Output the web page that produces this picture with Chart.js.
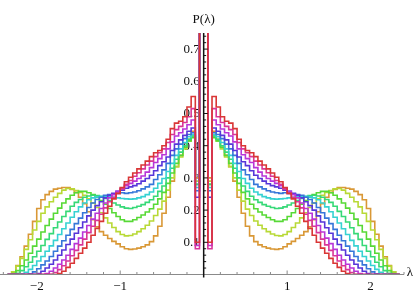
<!DOCTYPE html>
<html>
<head>
<meta charset="utf-8">
<script src="https://cdn.jsdelivr.net/npm/chart.js@4.4.0/dist/chart.umd.min.js"></script>
<style>
html,body{margin:0;padding:0;background:#fff;}
#wrap{width:415px;height:293px;position:relative;}
</style>
</head>
<body>
<div id="wrap"><canvas id="c" width="415" height="293"></canvas></div>
<script>
// Histogram bins of width 0.05 on lambda >= 0 (bin k covers [0.05k, 0.05(k+1)) );
// the distribution is read as symmetric, the negative side uses the same bin values.
const binWidth = 0.05;

const xTicks = [-2, -1, 1, 2];
const yTicks = [0.1, 0.2, 0.3, 0.4, 0.5, 0.6, 0.7];

const seriesNames = ['orange','yellowGreen','green','springGreen','cyan','azure','blue','purple','pink','red'];

const orange = [1.5, 0.30, 0.445, 0.42, 0.40, 0.37, 0.335, 0.29, 0.24, 0.19, 0.15, 0.12, 0.102, 0.092, 0.086, 0.082, 0.079, 0.078, 0.08, 0.086, 0.095, 0.103, 0.112, 0.122, 0.133, 0.148, 0.17, 0.195, 0.22, 0.24, 0.255, 0.264, 0.27, 0.27, 0.268, 0.265, 0.258, 0.248, 0.232, 0.205, 0.165, 0.125, 0.088, 0.055, 0.028, 0.008, 0];
const yellowGreen = [1.5, 0.29, 0.43, 0.415, 0.39, 0.365, 0.335, 0.30, 0.262, 0.228, 0.203, 0.183, 0.166, 0.153, 0.142, 0.133, 0.126, 0.121, 0.12, 0.124, 0.133, 0.146, 0.16, 0.176, 0.192, 0.208, 0.222, 0.235, 0.246, 0.255, 0.261, 0.266, 0.267, 0.262, 0.252, 0.24, 0.226, 0.21, 0.19, 0.165, 0.138, 0.108, 0.078, 0.05, 0.026, 0.008, 0];
const green = [1.5, 0.28, 0.425, 0.415, 0.395, 0.37, 0.345, 0.315, 0.283, 0.255, 0.235, 0.218, 0.204, 0.194, 0.185, 0.177, 0.17, 0.165, 0.165, 0.17, 0.18, 0.192, 0.205, 0.218, 0.23, 0.24, 0.248, 0.254, 0.258, 0.258, 0.254, 0.246, 0.235, 0.222, 0.206, 0.19, 0.172, 0.152, 0.132, 0.11, 0.088, 0.066, 0.045, 0.027, 0.012, 0.003, 0];
const springGreen = [1.5, 0.28, 0.43, 0.42, 0.40, 0.38, 0.358, 0.33, 0.30, 0.275, 0.258, 0.243, 0.232, 0.224, 0.217, 0.212, 0.208, 0.205, 0.206, 0.21, 0.216, 0.222, 0.23, 0.236, 0.242, 0.245, 0.246, 0.244, 0.24, 0.233, 0.224, 0.212, 0.196, 0.18, 0.163, 0.145, 0.127, 0.109, 0.09, 0.072, 0.055, 0.038, 0.024, 0.012, 0.004, 0, 0];
const cyan = [1.5, 0.27, 0.435, 0.428, 0.41, 0.39, 0.37, 0.345, 0.32, 0.298, 0.283, 0.268, 0.256, 0.248, 0.242, 0.238, 0.235, 0.234, 0.235, 0.236, 0.238, 0.24, 0.242, 0.243, 0.243, 0.241, 0.238, 0.232, 0.222, 0.21, 0.195, 0.178, 0.16, 0.142, 0.124, 0.106, 0.089, 0.072, 0.056, 0.042, 0.028, 0.016, 0.007, 0.002, 0, 0, 0];
const azure = [1.5, 0.26, 0.44, 0.435, 0.422, 0.405, 0.39, 0.37, 0.345, 0.325, 0.31, 0.295, 0.28, 0.272, 0.266, 0.26, 0.256, 0.254, 0.252, 0.254, 0.252, 0.25, 0.248, 0.246, 0.24, 0.233, 0.222, 0.208, 0.192, 0.175, 0.158, 0.14, 0.122, 0.105, 0.088, 0.072, 0.056, 0.042, 0.03, 0.018, 0.008, 0.002, 0, 0, 0, 0, 0];
const blue = [1.5, 0.24, 0.455, 0.445, 0.432, 0.418, 0.405, 0.385, 0.365, 0.35, 0.338, 0.322, 0.308, 0.298, 0.29, 0.282, 0.276, 0.272, 0.268, 0.262, 0.258, 0.252, 0.246, 0.238, 0.226, 0.214, 0.20, 0.182, 0.163, 0.145, 0.128, 0.11, 0.093, 0.076, 0.06, 0.045, 0.032, 0.02, 0.01, 0.003, 0, 0, 0, 0, 0, 0, 0];
const purple = [1.5, 0.09, 0.48, 0.465, 0.452, 0.44, 0.43, 0.412, 0.39, 0.372, 0.36, 0.348, 0.332, 0.318, 0.306, 0.298, 0.29, 0.283, 0.276, 0.268, 0.258, 0.248, 0.238, 0.222, 0.205, 0.19, 0.172, 0.152, 0.132, 0.113, 0.096, 0.078, 0.06, 0.045, 0.032, 0.02, 0.01, 0.003, 0, 0, 0, 0, 0, 0, 0, 0, 0];
const pink = [1.5, 0.08, 0.515, 0.49, 0.472, 0.46, 0.45, 0.435, 0.41, 0.39, 0.378, 0.366, 0.352, 0.34, 0.328, 0.316, 0.305, 0.292, 0.28, 0.266, 0.252, 0.24, 0.226, 0.207, 0.187, 0.168, 0.15, 0.13, 0.11, 0.092, 0.075, 0.058, 0.042, 0.027, 0.015, 0.006, 0.001, 0, 0, 0, 0, 0, 0, 0, 0, 0, 0];
const red = [1.5, 0.10, 0.553, 0.52, 0.49, 0.476, 0.47, 0.453, 0.42, 0.40, 0.385, 0.378, 0.366, 0.352, 0.34, 0.328, 0.315, 0.302, 0.288, 0.27, 0.252, 0.235, 0.212, 0.19, 0.165, 0.143, 0.122, 0.10, 0.082, 0.066, 0.05, 0.035, 0.022, 0.01, 0.003, 0, 0, 0, 0, 0, 0, 0, 0, 0, 0, 0, 0];

const seriesValues = [orange, yellowGreen, green, springGreen, cyan, azure, blue, purple, pink, red];
const seriesColors = ['rgb(217,152,54)','rgb(184,217,54)','rgb(87,217,54)','rgb(54,217,119)','rgb(54,210,210)',
                      'rgb(54,119,217)','rgb(87,54,217)','rgb(184,54,217)','rgb(217,54,152)','rgb(217,54,54)'];

function histPoints(R) {
  const n = R.length, pts = [];
  for (let i = n - 1; i >= 0; i--) pts.push({x: -(i + 1) * binWidth, y: R[i]});
  for (let i = 0; i < n; i++) pts.push({x: i * binWidth, y: R[i]});
  pts.push({x: n * binWidth, y: 0});
  return pts;
}

// red is drawn on top (dataset index 0 is painted last)
const datasets = [];
for (let s = seriesValues.length - 1; s >= 0; s--) {
  datasets.push({
    label: seriesNames[s],
    data: histPoints(seriesValues[s]),
    borderColor: seriesColors[s],
    borderWidth: 1.6,
    pointRadius: 0,
    fill: false,
    stepped: true,
    tension: 0
  });
}

const serif = "'Liberation Serif','Times New Roman',serif";

const deco = {
  id: 'deco',
  beforeDatasetsDraw(chart) {
    // y tick labels, left of the vertical axis (lines pass over them as in the original)
    const {ctx, scales: {x, y}} = chart;
    const x0 = x.getPixelForValue(0);
    ctx.save();
    ctx.fillStyle = '#111';
    ctx.font = '13px ' + serif;
    ctx.textAlign = 'right';
    ctx.textBaseline = 'middle';
    for (const t of y.ticks) {
      ctx.fillText(t.value.toFixed(1), x0 - 4, y.getPixelForValue(t.value) + 0.5);
    }
    ctx.restore();
  },
  afterDatasetsDraw(chart) {
    const {ctx, scales: {x, y}, chartArea} = chart;
    const x0 = x.getPixelForValue(0), y0 = y.getPixelForValue(0);
    ctx.save();
    // x axis
    ctx.strokeStyle = '#8a8a8a';
    ctx.lineWidth = 1;
    ctx.beginPath();
    ctx.moveTo(chartArea.left, y0); ctx.lineTo(chartArea.right, y0);
    ctx.stroke();
    for (let v = -24; v <= 24; v += 2) {
      if (v === 0) continue;
      const px = x.getPixelForValue(v / 10);
      if (px < chartArea.left || px > chartArea.right) continue;
      const len = (v % 10 === 0) ? 4 : 2.5;
      ctx.beginPath(); ctx.moveTo(px, y0); ctx.lineTo(px, y0 - len); ctx.stroke();
    }
    // y axis
    ctx.strokeStyle = '#111';
    ctx.lineWidth = 1.5;
    ctx.beginPath();
    ctx.moveTo(x0, chartArea.top); ctx.lineTo(x0, y0 + 3);
    ctx.stroke();
    ctx.lineWidth = 1;
    for (let v = 2; v <= 74; v += 2) {
      const py = y.getPixelForValue(v / 100);
      const len = (v % 10 === 0) ? 4 : 2.5;
      ctx.beginPath(); ctx.moveTo(x0, py); ctx.lineTo(x0 + len, py); ctx.stroke();
    }
    // axis labels
    ctx.fillStyle = '#111';
    ctx.font = '13px ' + serif;
    ctx.textAlign = 'center';
    ctx.textBaseline = 'alphabetic';
    ctx.fillText('P(\u03bb)', x0, 23);
    ctx.textBaseline = 'middle';
    ctx.fillText('\u03bb', 410, 273);
    ctx.restore();
  }
};

new Chart(document.getElementById('c'), {
  type: 'line',
  data: {datasets},
  options: {
    responsive: false,
    animation: false,
    devicePixelRatio: 1,
    layout: {padding: {top: 33, bottom: 18.5, left: 0, right: 11}},
    plugins: {legend: {display: false}, tooltip: {enabled: false}},
    scales: {
      x: {
        type: 'linear',
        min: -2.44, max: 2.40,
        position: {y: 0},
        grid: {display: false, drawTicks: false},
        border: {display: false},
        afterBuildTicks: s => { s.ticks = xTicks.map(v => ({value: v})); },
        ticks: {
          padding: 4,
          maxRotation: 0,
          color: '#111',
          font: {family: serif, size: 13},
          callback: v => (v < 0 ? '\u2212' + Math.abs(v) : String(v))
        }
      },
      y: {
        type: 'linear',
        min: 0, max: 0.75,
        position: {x: 0},
        grid: {display: false, drawTicks: false},
        border: {display: false},
        afterBuildTicks: s => { s.ticks = yTicks.map(v => ({value: v})); },
        ticks: {display: false}
      }
    }
  },
  plugins: [deco]
});
</script>
</body>
</html>
